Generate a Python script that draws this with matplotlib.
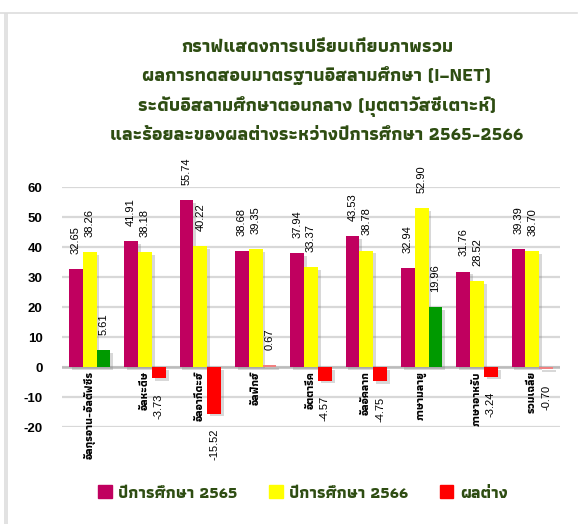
import matplotlib
matplotlib.use("Agg")
import matplotlib.pyplot as plt
import matplotlib.patheffects as pe
from matplotlib.patches import Rectangle
from matplotlib.lines import Line2D
import numpy as np

# ข้อมูล I-NET ระดับอิสลามศึกษาตอนกลาง
subjects = ["อัลกุรอาน-อัลตัฟซีร", "อัลหะดีษ", "อัลอากีดะฮ์", "อัลฟิกฮ์", "อัตตารีค",
            "อัลอัคลาก", "ภาษามลายู", "ภาษาอาหรับ", "รวมเฉลี่ย"]
score_2565 = [32.65, 41.91, 55.74, 38.68, 37.94, 43.53, 32.94, 31.76, 39.39]
score_2566 = [38.26, 38.18, 40.22, 39.35, 33.37, 38.78, 52.90, 28.52, 38.70]
diff = [5.61, -3.73, -15.52, 0.67, -4.57, -4.75, 19.96, -3.24, -0.70]
yticks = [-20, -10, 0, 10, 20, 30, 40, 50, 60]

title = ("กราฟแสดงการเปรียบเทียบภาพรวม\n"
         "ผลการทดสอบมาตรฐานอิสลามศึกษา (I–NET)\n"
         "ระดับอิสลามศึกษาตอนกลาง (มุตตาวัสซีเตาะห์)\n"
         "และร้อยละของผลต่างระหว่างปีการศึกษา 2565-2566")
legend_names = ["ปีการศึกษา 2565", "ปีการศึกษา 2566", "ผลต่าง"]

MAGENTA = "#c0005f"
YELLOW = "#ffff00"
GREEN = "#009a00"
RED = "#ff0000"
PINK = "#f08080"
DARKGREEN = "#2e4d12"
THAI = ["Athiti", "DejaVu Sans"]
NUM = ["Liberation Sans Narrow", "Liberation Sans", "DejaVu Sans"]

fig = plt.figure(figsize=(5.79, 5.24), dpi=100)

# กรอบการ์ดสีเทาจางๆ
fig.add_artist(Line2D([0, 0.997], [1 - 13 / 524] * 2, color="#dddddd", lw=1.2))
fig.add_artist(Rectangle((4 / 579, 0), 4 / 579, 1 - 13 / 524, color="#e2e2e2", lw=0))

ax = fig.add_axes([62 / 579, 97 / 524, 498 / 579, 240 / 524])

x = np.arange(len(subjects))
w = 0.25
shadow = [pe.SimplePatchShadow(offset=(2, -2), shadow_rgbFace="#808080", alpha=0.3),
          pe.Normal()]

diff_colors = []
for d in diff:
    if d > 1:
        diff_colors.append(GREEN)
    elif d < -1:
        diff_colors.append(RED)
    else:
        diff_colors.append(PINK)

b1 = ax.bar(x - w, score_2565, w, color=MAGENTA, zorder=3)
b2 = ax.bar(x, score_2566, w, color=YELLOW, zorder=3)
b3 = ax.bar(x + w, diff, w, color=diff_colors, zorder=3)
for bars in (b1, b2, b3):
    for b in bars:
        b.set_path_effects(shadow)

def put_labels(xs, vals):
    for xi, v in zip(xs, vals):
        if v >= 0:
            ax.annotate(f"{v:.2f}", (xi, v), xytext=(0, 11), textcoords="offset points",
                        rotation=90, ha="center", va="bottom", fontsize=8,
                        family=NUM, annotation_clip=False)
        else:
            ax.annotate(f"{v:.2f}", (xi, v), xytext=(0, -11), textcoords="offset points",
                        rotation=90, ha="center", va="top", fontsize=8,
                        family=NUM, annotation_clip=False)

put_labels(x - w, score_2565)
put_labels(x, score_2566)
put_labels(x + w, diff)

# ชื่อวิชาใต้แกน 0
for xi, name in zip(x, subjects):
    ax.annotate(name, (xi, 0), xytext=(0, -3), textcoords="offset points",
                rotation=90, ha="center", va="top", fontsize=8, fontweight="bold",
                family=THAI, annotation_clip=False)

ax.set_xlim(-0.5, len(subjects) - 0.5)
ax.set_ylim(-20, 60)
ax.set_yticks(yticks)
ax.set_yticklabels([str(t) for t in yticks], fontsize=9.5, fontweight="bold", family=NUM[1:])
ax.set_xticks([])
ax.tick_params(axis="y", length=0, pad=14)
ax.grid(axis="y", color="#d8d8d8", lw=1.6, zorder=0)
ax.axhline(0, color="#bbbbbb", lw=1.8, zorder=2)
for s in ax.spines.values():
    s.set_visible(False)

fig.text(317 / 579, 1 - 39 / 524, title, ha="center", va="top", fontsize=13.5,
         fontweight="bold", color=DARKGREEN, family=THAI, linespacing=1.75)

handles = [Rectangle((0, 0), 1, 1, color=c) for c in (MAGENTA, YELLOW, RED)]
fig.legend(handles, legend_names, loc="center", bbox_to_anchor=(303 / 579, 1 - 493 / 524),
           ncol=3, frameon=False, handlelength=0.8, handleheight=0.8, columnspacing=1.9,
           handletextpad=0.4,
           prop={"family": THAI, "weight": "bold", "size": 12}, labelcolor=DARKGREEN)

fig.savefig("out.png", dpi=100)
